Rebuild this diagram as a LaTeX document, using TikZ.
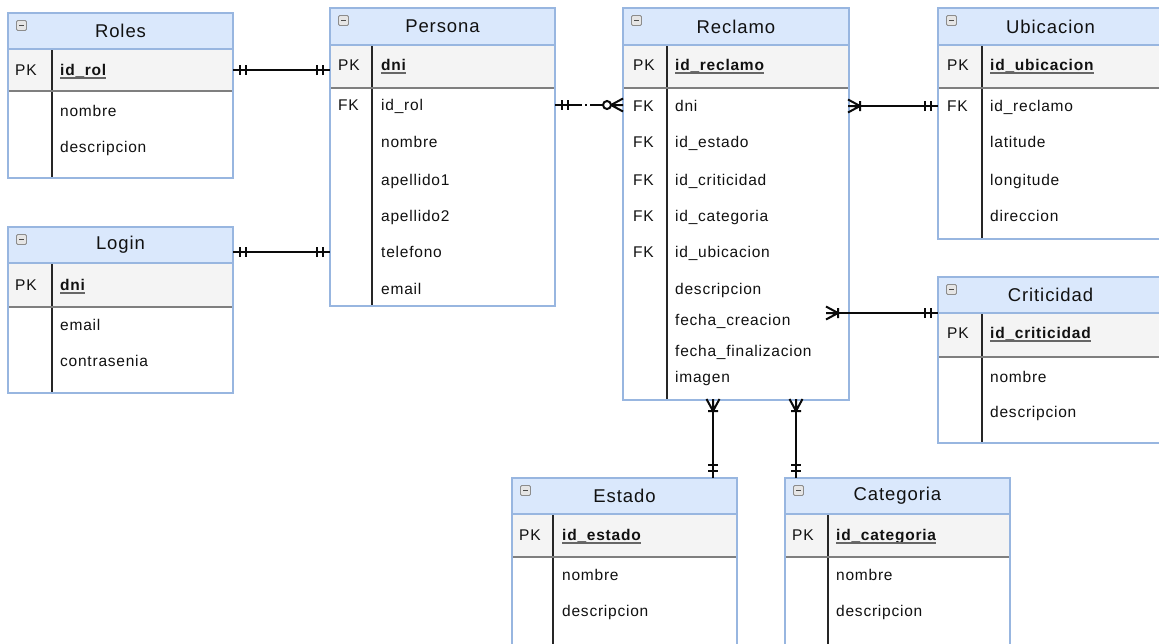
\documentclass[tikz,border=0pt]{standalone}
\usepackage{fontspec}
\setmainfont[LetterSpace=5]{Liberation Sans}
\usetikzlibrary{calc}

\definecolor{hdrfill}{HTML}{DAE8FC}
\definecolor{keyfill}{HTML}{F4F4F4}
\definecolor{framecol}{HTML}{98B6E0}
\definecolor{sepcol}{HTML}{7F7F7F}
\definecolor{txtcol}{HTML}{111111}
\definecolor{linkcol}{HTML}{0A0A0A}

\tikzset{
  erframe/.style={draw=framecol, line width=1.5pt, inner sep=0pt, outer sep=0pt},
  headbox/.style={fill=hdrfill, draw=framecol, line width=1.5pt, inner sep=0pt, outer sep=0pt},
  divline/.style={draw=black!85, line width=1.5pt},
  sepline/.style={draw=sepcol, line width=2pt},
  iconbox/.style={draw=black!45, fill=black!10, line width=0.9pt, rounded corners=1.2pt},
  iconbar/.style={draw=black!70, line width=1.5pt},
  titletext/.style={inner sep=0pt, text=txtcol, font=\fontsize{18.5}{22}\selectfont},
  fld/.style={anchor=west, inner sep=0pt, text height=11pt, text depth=0pt,
              text=txtcol, font=\fontsize{15.5}{18}\selectfont},
  keyfld/.style={fld, font=\fontsize{15.5}{18}\selectfont\bfseries},
  keyline/.style={draw=black!60, line width=1.2pt},
  conn/.style={draw=linkcol, line width=2.6pt},
  tipline/.style={draw=linkcol, line width=2pt},
  % relationship end markers, drawn with the entity edge at the origin
  % and the connector leaving along +x
  mandone/.pic={\draw[tipline] (7,-5) -- (7,5) (13,-5) -- (13,5);},
  onemany/.pic={\draw[tipline] (-1,-6.5) -- (11,0) -- (-1,6.5) (-1,0) -- (11,0)
                 (11,-5) -- (11,5);},
  zeromany/.pic={\draw[tipline] (0,-6.5) -- (12,0) -- (0,6.5) (0,0) -- (12,0);
                 \draw[tipline, fill=white] (16,0) circle[radius=4pt];},
}

% entity table: name, left, top, right, header bottom, key row bottom, bottom, divider x, title
\newcommand{\erbox}[9]{%
  \fill[keyfill] (#2,#5) rectangle (#4,#6);
  \draw[divline] (#8,#5) -- (#8,#7);
  \draw[sepline] (#2,#6) -- (#4,#6);
  \node[headbox, minimum width={(#4-#2)*1pt}, minimum height={(#5-#3)*1pt},
        anchor=north west] (#1-head) at (#2,#3) {};
  \node[erframe, minimum width={(#4-#2)*1pt}, minimum height={(#7-#3)*1pt},
        anchor=north west] (#1) at (#2,#3) {};
  \node[titletext] (#1-title) at ({(#2+#4)/2},{(#3+#5)/2}) {#9};
  \draw[iconbox] (#2+8.5,#3+7.5) rectangle (#2+18.5,#3+17.5);
  \draw[iconbar] (#2+11,#3+12.5) -- (#2+16,#3+12.5);
}

% primary key field, bold and underlined
\newcommand{\keyfield}[4]{%
  \node[keyfld] (#1) at (#2,#3) {#4};
  \draw[keyline] ($(#1.base west)+(0,2.5)$) -- ($(#1.base east)+(0,2.5)$);
}

\begin{document}
\begin{tikzpicture}[x=1pt, y=-1pt]
\useasboundingbox (0,0) rectangle (1159,643);
\fill[white] (0,0) rectangle (1159,643);

% ---------- Roles ----------
\erbox{roles}{8}{13}{233}{49}{91}{178}{52}{Roles}
\node[fld] (roles-pk) at (15,70) {PK};
\keyfield{roles-id}{60}{70}{id\_rol}
\node[fld] (roles-f1) at (60,111) {nombre};
\node[fld] (roles-f2) at (60,147) {descripcion};

% ---------- Login ----------
\erbox{login}{8}{227}{233}{263}{307}{393}{52}{Login}
\node[fld] (login-pk) at (15,285) {PK};
\keyfield{login-id}{60}{285}{dni}
\node[fld] (login-f1) at (60,325) {email};
\node[fld] (login-f2) at (60,361) {contrasenia};

% ---------- Persona ----------
\erbox{persona}{330}{8}{555}{45}{88}{306}{372}{Persona}
\node[fld] (persona-pk) at (338,65) {PK};
\keyfield{persona-id}{381}{65}{dni}
\node[fld] (persona-fk) at (338,105) {FK};
\node[fld] (persona-f1) at (381,105) {id\_rol};
\node[fld] (persona-f2) at (381,142) {nombre};
\node[fld] (persona-f3) at (381,180) {apellido1};
\node[fld] (persona-f4) at (381,216) {apellido2};
\node[fld] (persona-tel) at (381,252) {telefono};
\node[fld] (persona-f6) at (381,289) {email};

% ---------- Reclamo ----------
\erbox{reclamo}{623}{8}{849}{45}{88}{400}{667}{Reclamo}
\node[fld] (reclamo-pk) at (633,65) {PK};
\keyfield{reclamo-id}{675}{65}{id\_reclamo}
\node[fld] (reclamo-fk1) at (633,106) {FK};
\node[fld] (reclamo-fk2) at (633,142) {FK};
\node[fld] (reclamo-fk3) at (633,180) {FK};
\node[fld] (reclamo-fk4) at (633,216) {FK};
\node[fld] (reclamo-fk5) at (633,252) {FK};
\node[fld] (reclamo-dni) at (675,106) {dni};
\node[fld] (reclamo-f2) at (675,142) {id\_estado};
\node[fld] (reclamo-f3) at (675,180) {id\_criticidad};
\node[fld] (reclamo-f4) at (675,216) {id\_categoria};
\node[fld] (reclamo-f5) at (675,252) {id\_ubicacion};
\node[fld] (reclamo-f6) at (675,289) {descripcion};
\node[fld] (reclamo-f7) at (675,320) {fecha\_creacion};
\node[fld] (reclamo-f8) at (675,351) {fecha\_finalizacion};
\node[fld] (reclamo-f9) at (675,377) {imagen};

% ---------- Ubicacion ----------
\erbox{ubicacion}{938}{8}{1163}{45}{88}{239}{982}{Ubicacion}
\node[fld] (ubicacion-pk) at (947,65) {PK};
\keyfield{ubicacion-id}{990}{65}{id\_ubicacion}
\node[fld] (ubicacion-fk) at (947,106) {FK};
\node[fld] (ubicacion-f1) at (990,106) {id\_reclamo};
\node[fld] (ubicacion-f2) at (990,142) {latitude};
\node[fld] (ubicacion-f3) at (990,180) {longitude};
\node[fld] (ubicacion-f4) at (990,216) {direccion};

% ---------- Criticidad ----------
\erbox{criticidad}{938}{277}{1163}{313}{357}{443}{982}{Criticidad}
\node[fld] (criticidad-pk) at (947,333) {PK};
\keyfield{criticidad-id}{990}{333}{id\_criticidad}
\node[fld] (criticidad-f1) at (990,377) {nombre};
\node[fld] (criticidad-f2) at (990,412) {descripcion};

% ---------- Estado ----------
\erbox{estado}{512}{478}{737}{514}{557}{647}{553}{Estado}
\node[fld] (estado-pk) at (519,535) {PK};
\keyfield{estado-id}{562}{535}{id\_estado}
\node[fld] (estado-f1) at (562,575) {nombre};
\node[fld] (estado-f2) at (562,611) {descripcion};

% ---------- Categoria ----------
\erbox{categoria}{785}{478}{1010}{514}{557}{647}{828}{Categoria}
\node[fld] (categoria-pk) at (792,535) {PK};
\keyfield{categoria-id}{836}{535}{id\_categoria}
\node[fld] (categoria-f1) at (836,575) {nombre};
\node[fld] (categoria-f2) at (836,611) {descripcion};

% ---------- relationships ----------
% Roles -- Persona
\draw[conn] (roles-pk -| roles.east) -- (roles-pk -| persona.west);
\path (roles-pk -| roles.east) pic{mandone};
\path (roles-pk -| persona.west) pic[rotate=180]{mandone};

% Login -- Persona
\draw[conn] (persona-tel -| login.east) -- (persona-tel -| persona.west);
\path (persona-tel -| login.east) pic{mandone};
\path (persona-tel -| persona.west) pic[rotate=180]{mandone};

% Persona -- Reclamo
\draw[conn, dash pattern=on 27pt off 3pt on 2pt off 3pt on 60pt]
  (persona-fk -| persona.east) -- (persona-fk -| reclamo.west);
\path (persona-fk -| persona.east) pic{mandone};
\path (persona-fk -| reclamo.west) pic[rotate=180]{zeromany};

% Reclamo -- Ubicacion
\draw[conn] (reclamo-dni -| reclamo.east) -- (reclamo-dni -| ubicacion.west);
\path (reclamo-dni -| reclamo.east) pic{onemany};
\path (reclamo-dni -| ubicacion.west) pic[rotate=180]{mandone};

% Reclamo -- Criticidad
\coordinate (critlink) at ($(criticidad-head.south west -| reclamo.east)+(-22,0)$);
\draw[conn] (critlink) -- (criticidad-head.south west);
\path (critlink) pic{onemany};
\path (criticidad-head.south west) pic[rotate=180]{mandone};

% Reclamo -- Estado
\coordinate (estlink) at ($(reclamo.south)+(-23,0)$);
\draw[conn] (estlink) -- (estlink |- estado.north);
\path (estlink) pic[rotate=-90]{onemany};
\path (estlink |- estado.north) pic[rotate=90]{mandone};

% Reclamo -- Categoria
\coordinate (catlink) at ($(reclamo.south)+(60,0)$);
\draw[conn] (catlink) -- (catlink |- categoria.north);
\path (catlink) pic[rotate=-90]{onemany};
\path (catlink |- categoria.north) pic[rotate=90]{mandone};
\end{tikzpicture}
\end{document}
